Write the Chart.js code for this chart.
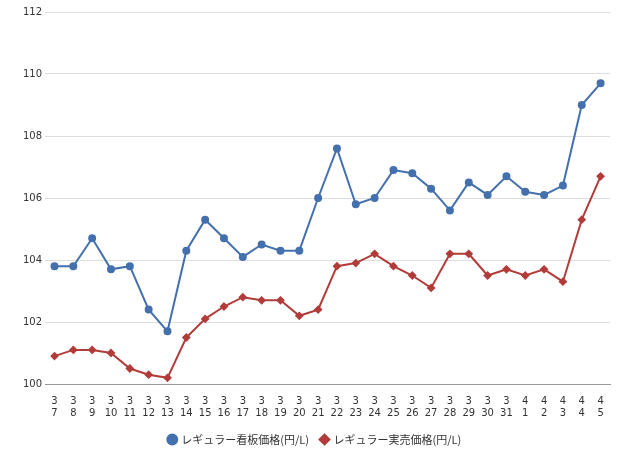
<!DOCTYPE html>
<html><head><meta charset="utf-8">
<script src="https://cdn.jsdelivr.net/npm/chart.js@4/dist/chart.umd.min.js"></script>
<style>body{margin:0;background:#fff}#w{width:640px;height:460px}</style>
</head><body><div id="w"><canvas id="c"></canvas></div>
<script>
const months=["3","3","3","3","3","3","3","3","3","3","3","3","3","3","3","3","3","3","3","3","3","3","3","3","3","4","4","4","4","4"];
const days=["7","8","9","10","11","12","13","14","15","16","17","18","19","20","21","22","23","24","25","26","27","28","29","30","31","1","2","3","4","5"];
const signPrice=[103.8,103.8,104.7,103.7,103.8,102.4,101.7,104.3,105.3,104.7,104.1,104.5,104.3,104.3,106.0,107.6,105.8,106.0,106.9,106.8,106.3,105.6,106.5,106.1,106.7,106.2,106.1,106.4,109.0,109.7];
const actualPrice=[100.9,101.1,101.1,101.0,100.5,100.3,100.2,101.5,102.1,102.5,102.8,102.7,102.7,102.2,102.4,103.8,103.9,104.2,103.8,103.5,103.1,104.2,104.2,103.5,103.7,103.5,103.7,103.3,105.3,106.7];
const seriesNames=["レギュラー看板価格(円/L)","レギュラー実売価格(円/L)"];
const labels=months.map((m,i)=>[m,days[i]]);
new Chart(document.getElementById('c'),{type:'line',
data:{labels,datasets:[
{label:seriesNames[0],data:signPrice,borderColor:'#4470ad',backgroundColor:'#4470ad',pointStyle:'circle',pointRadius:3,borderWidth:2,tension:0},
{label:seriesNames[1],data:actualPrice,borderColor:'#b13c3a',backgroundColor:'#b13c3a',pointStyle:'rectRot',pointRadius:3,borderWidth:2,tension:0}]},
options:{responsive:true,maintainAspectRatio:false,animation:false,
layout:{padding:{left:20,right:30,top:12,bottom:5}},
plugins:{legend:{position:'bottom',labels:{usePointStyle:true,boxWidth:7,boxHeight:7,padding:12,color:'#333',font:{family:'Noto Sans CJK JP',size:11}}},tooltip:{enabled:false}},
scales:{
x:{offset:true,grid:{display:false},border:{color:'#999'},ticks:{color:'#333',maxRotation:0,autoSkip:false,font:{family:'DejaVu Sans',size:10}}},
y:{min:100,max:112,ticks:{stepSize:2,color:'#333',font:{family:'DejaVu Sans',size:10}},grid:{color:'#ddd',drawTicks:false},border:{display:false}}}}});
</script></body></html>
